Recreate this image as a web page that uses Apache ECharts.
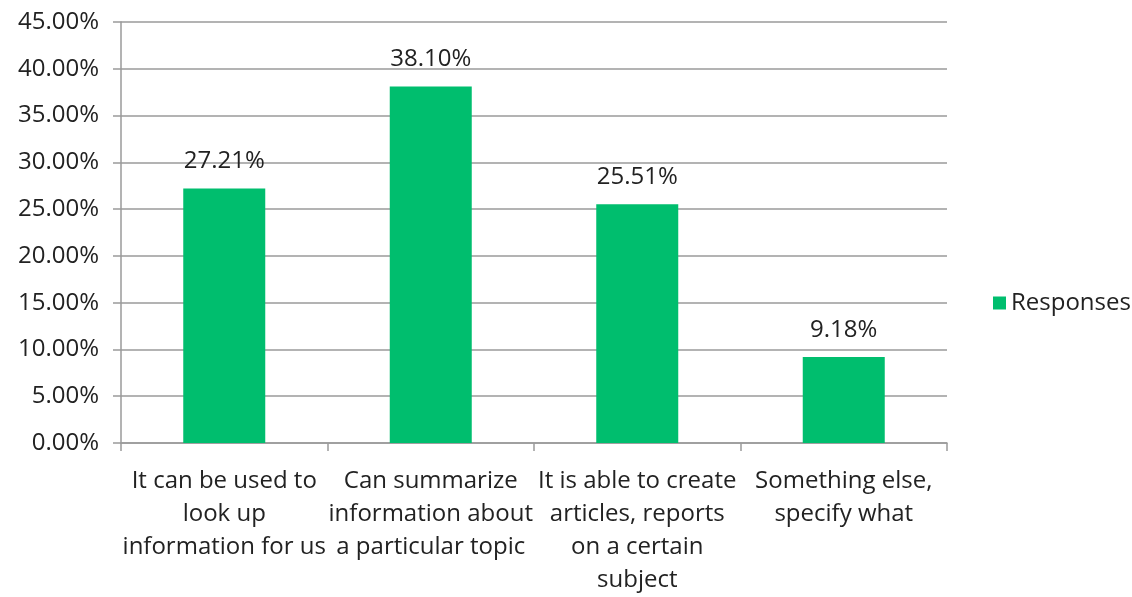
<!DOCTYPE html>
<html><head><meta charset="utf-8">
<script src="https://cdn.jsdelivr.net/npm/echarts@6/dist/echarts.min.js"></script>
<style>html,body{margin:0;padding:0;background:#fff}#c{width:1132px;height:597px}</style>
</head><body><div id="c"></div>
<script>
const categories = [
  "It can be used to\nlook up\ninformation for us",
  "Can summarize\ninformation about\na particular topic",
  "It is able to create\narticles, reports\non a certain\nsubject",
  "Something else,\nspecify what"
];
const seriesName = "Responses";
const values = [27.21, 38.10, 25.51, 9.18];

const FONT = "'Open Sans', 'Noto Sans', sans-serif";
const FS = 24;
const chart = echarts.init(document.getElementById('c'));
chart.setOption({
  backgroundColor: '#fff',
  textStyle: {fontFamily: FONT},
  grid: {left: 121, top: 22, right: 185, bottom: 151, containLabel: false},
  legend: {
    show: true, left: 988, top: 286, orient: 'vertical',
    icon: 'rect', itemWidth: 13, itemHeight: 13, itemGap: 6,
    textStyle: {fontSize: FS, color: '#222', fontFamily: FONT},
    data: [seriesName]
  },
  xAxis: {
    type: 'category', data: categories,
    axisLine: {lineStyle: {color: '#9a9a9a', width: 1.5}},
    axisTick: {show: true, length: 8, alignWithLabel: false, lineStyle: {color: '#9a9a9a', width: 1.5}},
    axisLabel: {fontSize: FS, color: '#222', lineHeight: 33, margin: 22, interval: 0, fontFamily: FONT}
  },
  yAxis: {
    type: 'value', min: 0, max: 45, interval: 5,
    axisLine: {show: true, lineStyle: {color: '#9a9a9a', width: 1.5}},
    axisTick: {show: true, length: 8, lineStyle: {color: '#9a9a9a', width: 1.5}},
    splitLine: {lineStyle: {color: '#9a9a9a', width: 1.5}},
    axisLabel: {fontSize: FS, color: '#222', margin: 22, fontFamily: FONT,
      formatter: v => v.toFixed(2) + '%'}
  },
  series: [{
    name: seriesName, type: 'bar', data: values, barWidth: 82,
    itemStyle: {color: '#00BE6E'},
    label: {show: true, position: 'top', distance: 15, fontSize: FS, color: '#222', fontFamily: FONT,
      formatter: p => p.value.toFixed(2) + '%'}
  }]
});
</script></body></html>
